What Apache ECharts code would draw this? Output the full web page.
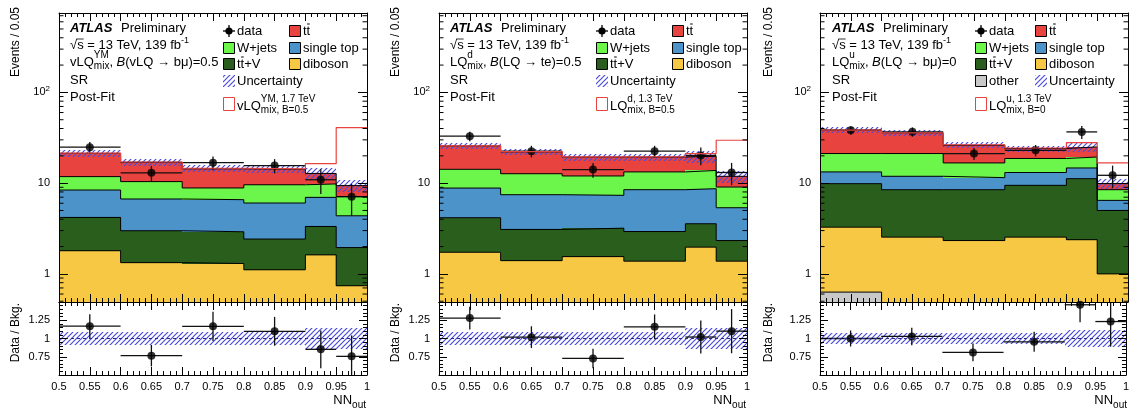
<!DOCTYPE html>
<html>
<head>
<meta charset="utf-8">
<script src="https://cdn.jsdelivr.net/npm/echarts@6/dist/echarts.min.js"></script>
<style>
html, body { margin: 0; padding: 0; background: #fff; }
#chart { width: 1132px; height: 413px; }
</style>
</head>
<body>
<div id="chart"></div>
<script>
// binning of NN_out
const binEdges = [0.5, 0.6, 0.7, 0.8, 0.9, 0.95, 1.0];
const binCenters = [0.55, 0.65, 0.75, 0.85, 0.925, 0.975];

// panel 1 : vLQ YM, B(vLQ -> b mu) = 0.5   (events / 0.05, per process)
const p1Diboson   = [1.80, 1.33, 1.30, 1.11, 1.62, 0.74];
const p1TtV       = [2.39, 1.66, 1.61, 1.31, 1.71, 1.21];
const p1SingleTop = [4.21, 3.70, 3.66, 3.62, 3.64, 2.42];
const p1WJets     = [3.40, 3.71, 2.28, 3.56, 2.83, 2.73];
const p1Ttbar     = [9.50, 6.60, 5.55, 4.60, 3.00, 2.30];
const p1Data      = [24.9, 13.0, 16.8, 15.6, 10.9, 7.1];
const p1DataErr   = [3.5, 2.5, 2.9, 2.8, 3.3, 2.7];
const p1Signal    = [0.1, 0.1, 0.2, 0.2, 3.6, 31.6];
const p1Unc       = [0.09, 0.09, 0.09, 0.09, 0.15, 0.15];

// panel 2 : LQ d, B(LQ -> t e) = 0.5
const p2Diboson   = [1.73, 1.40, 1.55, 1.38, 1.97, 1.38];
const p2TtV       = [2.43, 1.69, 1.64, 1.55, 1.60, 0.95];
const p2SingleTop = [4.67, 4.37, 4.15, 5.54, 5.12, 3.03];
const p2WJets     = [5.37, 5.24, 4.66, 4.83, 5.11, 3.70];
const p2Ttbar     = [11.5, 9.4, 7.4, 6.1, 6.0, 2.84];
const p2Data      = [32.9, 22.5, 14.1, 22.5, 20.2, 13.1];
const p2DataErr   = [4.0, 3.3, 2.6, 3.3, 4.5, 3.6];
const p2Signal    = [0.1, 0.1, 0.1, 0.2, 1.4, 17.8];
const p2Unc       = [0.085, 0.085, 0.085, 0.085, 0.15, 0.15];

// panel 3 : LQ u, B(LQ -> b mu) = 0
const p3Other     = [0.63, 0.2, 0.2, 0.2, 0.2, 0.1];
const p3Diboson   = [2.64, 2.34, 2.13, 2.34, 2.18, 0.90];
const p3TtV       = [6.60, 5.93, 6.14, 6.92, 8.82, 4.00];
const p3SingleTop = [3.43, 3.43, 3.03, 3.64, 3.50, 1.46];
const p3WJets     = [7.90, 9.30, 5.20, 5.60, 4.70, 2.01];
const p3Ttbar     = [17.1, 14.6, 9.5, 5.4, 5.7, 1.43];
const p3Data      = [38.3, 36.8, 21.2, 23.0, 36.7, 12.2];
const p3DataErr   = [4.2, 4.3, 3.2, 3.3, 6.0, 3.4];
const p3Signal    = [0.1, 0.1, 0.3, 0.3, 2.9, 6.8];
const p3Unc       = [0.075, 0.075, 0.075, 0.075, 0.12, 0.12];

const COL = {
  ttbar: '#e8433f', wjets: '#6cf54a', stop: '#4b93c9',
  ttv: '#2a5e1d', diboson: '#f7c843', other: '#c8c8c8', sig: '#e8433f'
};
const FONT = '"Liberation Sans", Arial, sans-serif';

const yMin = 0.49, yMax = 750, rMin = 0.5, rMax = 1.5;
const mainTop = 13, mainH = 289, ratioTop = 302, ratioH = 73, plotW = 308;

const panels = [
  { left: 59, comps: [p1Diboson, p1TtV, p1SingleTop, p1WJets, p1Ttbar],
    colors: [COL.diboson, COL.ttv, COL.stop, COL.wjets, COL.ttbar],
    data: p1Data, err: p1DataErr, sig: p1Signal, unc: p1Unc },
  { left: 439, comps: [p2Diboson, p2TtV, p2SingleTop, p2WJets, p2Ttbar],
    colors: [COL.diboson, COL.ttv, COL.stop, COL.wjets, COL.ttbar],
    data: p2Data, err: p2DataErr, sig: p2Signal, unc: p2Unc },
  { left: 820, comps: [p3Other, p3Diboson, p3TtV, p3SingleTop, p3WJets, p3Ttbar],
    colors: [COL.other, COL.diboson, COL.ttv, COL.stop, COL.wjets, COL.ttbar],
    data: p3Data, err: p3DataErr, sig: p3Signal, unc: p3Unc }
];

panels.forEach(P => {
  let run = binCenters.map(() => 0);
  P.cum = P.comps.map(c => { run = run.map((r, i) => r + c[i]); return run.slice(); });
  P.total = P.cum[P.cum.length - 1];
});

// hatch pattern for uncertainty band
function makeHatch() {
  const c = document.createElement('canvas');
  c.width = 5; c.height = 5;
  const g = c.getContext('2d');
  g.strokeStyle = '#4b4bdc';
  g.lineWidth = 1.2;
  g.beginPath();
  g.moveTo(-1, 6); g.lineTo(6, -1);
  g.moveTo(-1, 1); g.lineTo(1, -1);
  g.moveTo(4, 6); g.lineTo(6, 4);
  g.stroke();
  return c;
}
const hatch = { image: makeHatch(), repeat: 'repeat' };

function stepData(vals) {
  const d = binCenters.map((c, i) => [binEdges[i], vals[i]]);
  d.push([binEdges[binEdges.length - 1], vals[vals.length - 1]]);
  return d;
}

function rectBetween(api, x0, x1, lo, hi, style) {
  const a = api.coord([x0, lo]), b = api.coord([x1, hi]);
  const xa = Math.round(a[0]), xb = Math.round(b[0]);
  const ya = Math.round(a[1]), yb = Math.round(b[1]);
  return { type: 'rect', shape: { x: xa, y: yb, width: xb - xa, height: ya - yb }, style: style };
}

function errBars(api) {
  const i = api.value(2), y = api.value(1), e = api.value(3);
  const l = api.coord([binEdges[i], y]), r = api.coord([binEdges[i + 1], y]);
  const t = api.coord([binCenters[i], y + e]), b = api.coord([binCenters[i], Math.max(y - e, 0.01)]);
  return { type: 'group', children: [
    { type: 'line', shape: { x1: l[0], y1: l[1], x2: r[0], y2: r[1] }, style: { stroke: '#111', lineWidth: 1.3 } },
    { type: 'line', shape: { x1: t[0], y1: t[1], x2: b[0], y2: b[1] }, style: { stroke: '#111', lineWidth: 1.3 } }
  ] };
}

const logMinor = [];
[0.1, 1, 10, 100].forEach(d => { for (let k = 2; k <= 9; k++) { const v = d * k; if (v > yMin && v < yMax) logMinor.push(v); } });

const grids = [], xAxes = [], yAxes = [], series = [];
const tickBase = {
  z: 10,
  axisLine: { show: true, onZero: false, lineStyle: { color: '#000', width: 1 } },
  splitLine: { show: false }, minorSplitLine: { show: false }
};

panels.forEach((P, p) => {
  const gm = 2 * p, gr = 2 * p + 1;
  grids.push({ left: P.left, top: mainTop, width: plotW, height: mainH });
  grids.push({ left: P.left, top: ratioTop, width: plotW, height: ratioH });
  [gm, gr].forEach(g => {
    [0, 1].forEach(side => {
      xAxes.push(Object.assign({}, tickBase, {
        gridIndex: g, type: 'value', min: 0.5, max: 1, interval: 0.05,
        position: side === 0 ? 'bottom' : 'top',
        axisTick: { show: true, inside: true, length: 8, lineStyle: { color: '#000', width: 1 } },
        minorTick: { show: true, splitNumber: 5, length: 4, lineStyle: { color: '#000', width: 1 } },
        axisLabel: { show: g === gr && side === 0, color: '#000', fontSize: 11, fontFamily: FONT, margin: 6 }
      }));
    });
  });
  // main log axes
  [0, 1].forEach(side => {
    yAxes.push(Object.assign({}, tickBase, {
      gridIndex: gm, type: 'log', logBase: 10, min: yMin, max: yMax,
      position: side === 0 ? 'left' : 'right',
      axisTick: { show: true, inside: true, length: 9, lineStyle: { color: '#000', width: 1 } },
      axisLabel: {
        show: side === 0, color: '#000', fontSize: 11, fontFamily: FONT, margin: 9,
        showMinLabel: false, showMaxLabel: false,
        formatter: v => Math.abs(v - 100) < 1e-6 ? '10{s|2}' : Math.abs(v - 10) < 1e-6 ? '10' : Math.abs(v - 1) < 1e-6 ? '1' : '',
        rich: { s: { fontSize: 8, fontFamily: FONT, color: '#000', padding: [0, 0, 7, 0] } }
      }
    }));
  });
  // ratio axes
  [0, 1].forEach(side => {
    yAxes.push(Object.assign({}, tickBase, {
      gridIndex: gr, type: 'value', min: rMin, max: rMax, interval: 0.25,
      position: side === 0 ? 'left' : 'right',
      axisTick: { show: true, inside: true, length: 8, lineStyle: { color: '#000', width: 1 } },
      minorTick: { show: true, splitNumber: 5, length: 4, lineStyle: { color: '#000', width: 1 } },
      axisLabel: {
        show: side === 0, color: '#000', fontSize: 11, fontFamily: FONT, margin: 9,
        formatter: v => (Math.abs(v - 0.75) < 1e-6 ? '0.75' : Math.abs(v - 1) < 1e-6 ? '1' : Math.abs(v - 1.25) < 1e-6 ? '1.25' : '')
      }
    }));
  });

  const mx = 2 * gm, my = 2 * gm, rx = 2 * gr, ry = 2 * gr;
  const items = binCenters.map((c, i) => [c, P.total[i], i]);

  // stacked fills
  series.push({
    type: 'custom', xAxisIndex: mx, yAxisIndex: my, clip: true, silent: true,
    data: items,
    renderItem: (params, api) => {
      const i = api.value(2);
      const children = [];
      let lo = yMin;
      P.cum.forEach((c, k) => {
        const hi = Math.min(c[i], yMax);
        if (hi > lo) children.push(rectBetween(api, binEdges[i], binEdges[i + 1], lo, hi, { fill: P.colors[k] }));
        lo = Math.max(lo, c[i]);
      });
      return { type: 'group', children };
    }
  });
  // outlines of each stacked level
  P.cum.forEach(c => {
    series.push({
      type: 'line', xAxisIndex: mx, yAxisIndex: my, step: 'end', symbol: 'none', silent: true,
      data: stepData(c), lineStyle: { color: '#000', width: 1 }
    });
  });
  // uncertainty band
  series.push({
    type: 'custom', xAxisIndex: mx, yAxisIndex: my, clip: true, silent: true,
    data: items,
    renderItem: (params, api) => {
      const i = api.value(2), t = P.total[i];
      return rectBetween(api, binEdges[i], binEdges[i + 1], t * (1 - P.unc[i]), t * (1 + P.unc[i]), { fill: hatch });
    }
  });
  // signal on top of background
  series.push({
    type: 'line', xAxisIndex: mx, yAxisIndex: my, step: 'end', symbol: 'none', silent: true,
    data: stepData(P.total.map((t, i) => t + P.sig[i])), lineStyle: { color: COL.sig, width: 1.2 }
  });
  // log minor ticks (2..9 per decade) on both sides
  series.push({
    type: 'custom', xAxisIndex: mx, yAxisIndex: my, clip: true, silent: true, z: 11,
    data: logMinor.map(v => [0.75, v]),
    renderItem: (params, api) => {
      const v = api.value(1);
      const a = api.coord([0.5, v]), b = api.coord([1.0, v]);
      return { type: 'group', children: [
        { type: 'line', shape: { x1: a[0], y1: a[1], x2: a[0] + 4.5, y2: a[1] }, style: { stroke: '#000', lineWidth: 1 } },
        { type: 'line', shape: { x1: b[0] - 4.5, y1: b[1], x2: b[0], y2: b[1] }, style: { stroke: '#000', lineWidth: 1 } }
      ] };
    }
  });
  // data
  series.push({
    type: 'custom', xAxisIndex: mx, yAxisIndex: my, clip: true, silent: true,
    data: binCenters.map((c, i) => [c, P.data[i], i, P.err[i]]),
    renderItem: (params, api) => errBars(api)
  });
  series.push({
    type: 'scatter', xAxisIndex: mx, yAxisIndex: my, symbol: 'circle', symbolSize: 8, silent: true,
    itemStyle: { color: '#000' }, data: binCenters.map((c, i) => [c, P.data[i]])
  });

  // ratio panel
  series.push({
    type: 'custom', xAxisIndex: rx, yAxisIndex: ry, clip: true, silent: true,
    data: items,
    renderItem: (params, api) => {
      const i = api.value(2);
      return rectBetween(api, binEdges[i], binEdges[i + 1], 1 - P.unc[i], 1 + P.unc[i], { fill: hatch });
    }
  });
  series.push({
    type: 'custom', xAxisIndex: rx, yAxisIndex: ry, clip: true, silent: true,
    data: binCenters.map((c, i) => [c, P.data[i] / P.total[i], i, P.err[i] / P.total[i]]),
    renderItem: (params, api) => errBars(api)
  });
  series.push({
    type: 'scatter', xAxisIndex: rx, yAxisIndex: ry, symbol: 'circle', symbolSize: 8, silent: true, clip: true,
    itemStyle: { color: '#000' }, data: binCenters.map((c, i) => [c, P.data[i] / P.total[i]]),
    markLine: {
      silent: true, symbol: 'none', label: { show: false },
      lineStyle: { color: '#2a2a80', type: [3, 3], width: 1 },
      data: [{ yAxis: 1 }]
    }
  });
});

// ---------- text ----------
const mctx = document.createElement('canvas').getContext('2d');
function tw(t, size, style, weight) {
  mctx.font = (style || 'normal') + ' ' + (weight || 'normal') + ' ' + size + 'px ' + FONT;
  return mctx.measureText(t).width;
}
const G = [];
function txt(x, y, t, size, style, weight, extra) {
  G.push({ type: 'text', x: x, y: y, silent: true, style: Object.assign({
    text: t, fontSize: size, fontFamily: FONT, fontStyle: style || 'normal', fontWeight: weight || 'normal',
    fill: '#000', verticalAlign: 'middle', align: 'left' }, extra || {}) });
}
function seg(x1, y1, x2, y2, color, w) {
  G.push({ type: 'line', silent: true, shape: { x1, y1, x2, y2 }, style: { stroke: color || '#000', lineWidth: w || 1 } });
}
function richLine(x, y, parts) {
  let cx = x;
  parts.forEach(p => {
    if (p.sup !== undefined) {
      txt(cx, y - 7, p.sup, 10);
      txt(cx, y + 4, p.sub, 10);
      cx += Math.max(tw(p.sup, 10), tw(p.sub, 10));
    } else {
      const s = p.size || 13;
      txt(cx, y + (p.dy || 0), p.t, s, p.style);
      const w = tw(p.t, s, p.style);
      if (p.bar) seg(cx + 0.5, y - 7, cx + w - 0.5, y - 7);
      cx += w;
    }
  });
  return cx;
}

const textX = [70, 450, 832];
const line3 = [
  [{ t: 'vLQ' }, { sup: 'YM', sub: 'mix' }, { t: ', ' }, { t: 'B', style: 'italic' }, { t: '(vLQ \u2192 b\u03bc)=0.5' }],
  [{ t: 'LQ' }, { sup: 'd', sub: 'mix' }, { t: ', ' }, { t: 'B', style: 'italic' }, { t: '(LQ \u2192 te)=0.5' }],
  [{ t: 'LQ' }, { sup: 'u', sub: 'mix' }, { t: ', ' }, { t: 'B', style: 'italic' }, { t: '(LQ \u2192 b\u03bc)=0' }]
];
const sigLabel = [
  [{ t: 'vLQ' }, { sup: 'YM, 1.7 TeV', sub: 'mix, B=0.5' }],
  [{ t: 'LQ' }, { sup: 'd, 1.3 TeV', sub: 'mix, B=0.5' }],
  [{ t: 'LQ' }, { sup: 'u, 1.3 TeV', sub: 'mix, B=0' }]
];
const legCols = [[223, 289], [596, 672], [975, 1035]];
const legRows = [31, 48, 64, 81, 104];
const axisTitleX = [16, 396, 769];

function legendEntry(bx, y, kind, color, label) {
  if (kind === 'data') {
    G.push({ type: 'circle', silent: true, shape: { cx: bx + 6, cy: y, r: 3.6 }, style: { fill: '#000' } });
    seg(bx, y, bx + 12, y, '#000', 1.3);
    seg(bx + 6, y - 6, bx + 6, y + 6, '#000', 1.3);
  } else if (kind === 'hatch') {
    G.push({ type: 'rect', silent: true, shape: { x: bx, y: y - 6, width: 12, height: 12 }, style: { fill: hatch } });
  } else if (kind === 'sig') {
    G.push({ type: 'rect', silent: true, shape: { x: bx + 0.5, y: y - 6.5, width: 11, height: 13 }, style: { fill: '#fff', stroke: COL.sig, lineWidth: 1 } });
  } else {
    G.push({ type: 'rect', silent: true, shape: { x: bx + 0.5, y: y - 5.5, width: 11, height: 11 }, style: { fill: color, stroke: '#000', lineWidth: 1 } });
  }
  if (Array.isArray(label)) richLine(bx + 14, y + (kind === 'sig' ? 2 : 0), label);
  else txt(bx + 14, y, label, 13);
}

panels.forEach((P, p) => {
  const x = textX[p];
  txt(x, 28, 'ATLAS', 13, 'italic', 'bold');
  txt(x + 51, 28, 'Preliminary', 13);
  const xs = richLine(x, 45, [{ t: '\u221a' }, { t: 's' }, { t: ' = 13 TeV, 139 fb' }]);
  seg(x + tw('\u221a', 13) - 0.5, 39, x + tw('\u221as', 13), 39, '#000', 0.8);
  txt(xs, 41, '-1', 9);
  richLine(x, 62, line3[p]);
  txt(x, 80, 'SR', 13);
  txt(x, 97, 'Post-Fit', 13);

  const [c0, c1] = legCols[p];
  legendEntry(c0, legRows[0], 'data', null, 'data');
  legendEntry(c1, legRows[0], 'fill', COL.ttbar, [{ t: 't' }, { t: 't', bar: true }]);
  legendEntry(c0, legRows[1], 'fill', COL.wjets, 'W+jets');
  legendEntry(c1, legRows[1], 'fill', COL.stop, 'single top');
  legendEntry(c0, legRows[2], 'fill', COL.ttv, [{ t: 't' }, { t: 't', bar: true }, { t: '+V' }]);
  legendEntry(c1, legRows[2], 'fill', COL.diboson, 'diboson');
  if (p === 2) {
    legendEntry(c0, legRows[3], 'fill', COL.other, 'other');
    legendEntry(c1, legRows[3], 'hatch', null, 'Uncertainty');
  } else {
    legendEntry(c0, legRows[3], 'hatch', null, 'Uncertainty');
  }
  legendEntry(c0, legRows[4], 'sig', null, sigLabel[p]);

  // axis titles
  txt(axisTitleX[p], 7, 'Events / 0.05', 12, null, null, { align: 'right' });
  G[G.length - 1].rotation = Math.PI / 2;
  txt(axisTitleX[p], 303, 'Data / Bkg.', 12, null, null, { align: 'right' });
  G[G.length - 1].rotation = Math.PI / 2;
  const right = P.left + plotW - 1;
  const wNN = tw('NN', 13), wOut = tw('out', 10);
  txt(right - wNN - wOut, 400, 'NN', 13);
  txt(right - wOut, 405, 'out', 10);
});

const chart = echarts.init(document.getElementById('chart'));
chart.setOption({
  animation: false,
  backgroundColor: '#fff',
  grid: grids,
  xAxis: xAxes,
  yAxis: yAxes,
  series: series,
  graphic: G
});
</script>
</body>
</html>
